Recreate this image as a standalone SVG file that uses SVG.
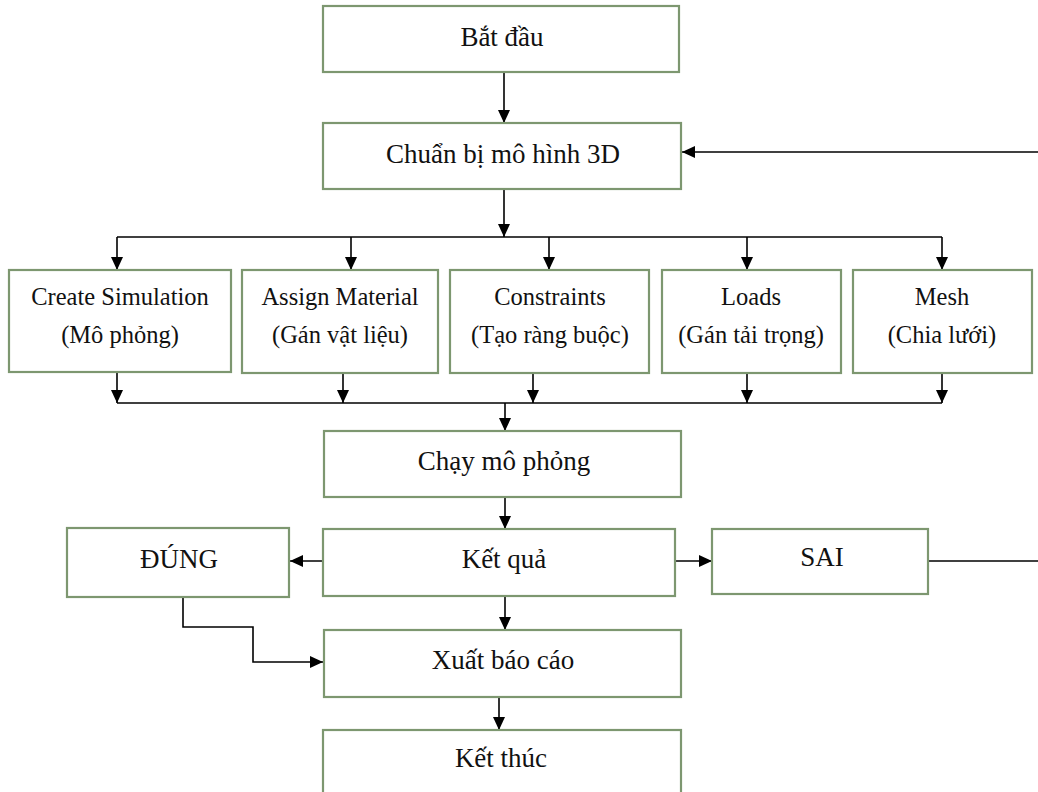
<svg xmlns="http://www.w3.org/2000/svg" width="1038" height="792" viewBox="0 0 1038 792">
<style>
.box{fill:#fff;stroke:#7d9770;stroke-width:2.2}
.t{font-family:'Liberation Serif',Tinos,'Noto Serif','DejaVu Serif',serif;font-size:27px;fill:#111;text-anchor:middle}
.s{font-family:'Liberation Serif',Tinos,'Noto Serif','DejaVu Serif',serif;font-size:24.5px;fill:#111;text-anchor:middle}
.c{fill:none;stroke:#000;stroke-width:1.6}
.a{marker-end:url(#ah)}
</style>
<defs>
<marker id="ah" markerUnits="userSpaceOnUse" markerWidth="14" markerHeight="14" viewBox="0 0 14 14" refX="13" refY="7" orient="auto">
<path d="M0,1 L13,7 L0,13 Z" fill="#000"/>
</marker>
</defs>
<rect width="1038" height="792" fill="#fff"/>
<g id="connectors">
<path class="c a" d="M504,72 V123"/>
<path class="c a" d="M1038,152 H682"/>
<path class="c a" d="M504,189 V237"/>
<path class="c" d="M117,237 H942"/>
<path class="c a" d="M117,237 V270"/>
<path class="c a" d="M351,237 V270"/>
<path class="c a" d="M549,237 V270"/>
<path class="c a" d="M747,237 V270"/>
<path class="c a" d="M942,237 V270"/>
<path class="c a" d="M117,372 V403"/>
<path class="c a" d="M343,373 V403"/>
<path class="c a" d="M533,373 V403"/>
<path class="c a" d="M747,373 V403"/>
<path class="c a" d="M942,373 V403"/>
<path class="c" d="M117,403 H942"/>
<path class="c a" d="M505,403 V431"/>
<path class="c a" d="M505,497 V529"/>
<path class="c a" d="M323,561 H290"/>
<path class="c a" d="M675,561 H712"/>
<path class="c" d="M928,561 H1038"/>
<path class="c a" d="M505,596 V630"/>
<path class="c a" d="M183,597 V627 H253 V662 H323"/>
<path class="c a" d="M499,697 V730"/>
</g>
<g id="start"><rect class="box" x="323" y="6" width="356" height="66"/><text class="t" x="502" y="46">Bắt đầu</text></g>
<g id="prepare"><rect class="box" x="323" y="123" width="358" height="66"/><text class="t" x="503" y="163">Chuẩn bị mô hình 3D</text></g>
<g id="create"><rect class="box" x="9" y="270" width="222" height="102"/><text class="s" x="120" y="305">Create Simulation</text><text class="s" x="120" y="343">(Mô phỏng)</text></g>
<g id="assign"><rect class="box" x="242" y="270" width="196" height="103"/><text class="s" x="340" y="305">Assign Material</text><text class="s" x="340" y="343">(Gán vật liệu)</text></g>
<g id="constraints"><rect class="box" x="450" y="270" width="199" height="103"/><text class="s" x="550" y="305">Constraints</text><text class="s" x="550" y="343">(Tạo ràng buộc)</text></g>
<g id="loads"><rect class="box" x="662" y="270" width="179" height="103"/><text class="s" x="751" y="305">Loads</text><text class="s" x="751" y="343">(Gán tải trọng)</text></g>
<g id="mesh"><rect class="box" x="853" y="270" width="179" height="103"/><text class="s" x="942" y="305">Mesh</text><text class="s" x="942" y="343">(Chia lưới)</text></g>
<g id="run"><rect class="box" x="324" y="431" width="357" height="66"/><text class="t" x="504" y="470">Chạy mô phỏng</text></g>
<g id="result"><rect class="box" x="323" y="529" width="352" height="67"/><text class="t" x="504" y="568">Kết quả</text></g>
<g id="dung"><rect class="box" x="67" y="528" width="222" height="69"/><text class="t" x="179" y="568">ĐÚNG</text></g>
<g id="sai"><rect class="box" x="712" y="529" width="216" height="65"/><text class="t" x="822" y="566">SAI</text></g>
<g id="report"><rect class="box" x="324" y="630" width="357" height="67"/><text class="t" x="503" y="669">Xuất báo cáo</text></g>
<g id="end"><rect class="box" x="323" y="730" width="358" height="80"/><text class="t" x="501" y="767">Kết thúc</text></g>
</svg>
